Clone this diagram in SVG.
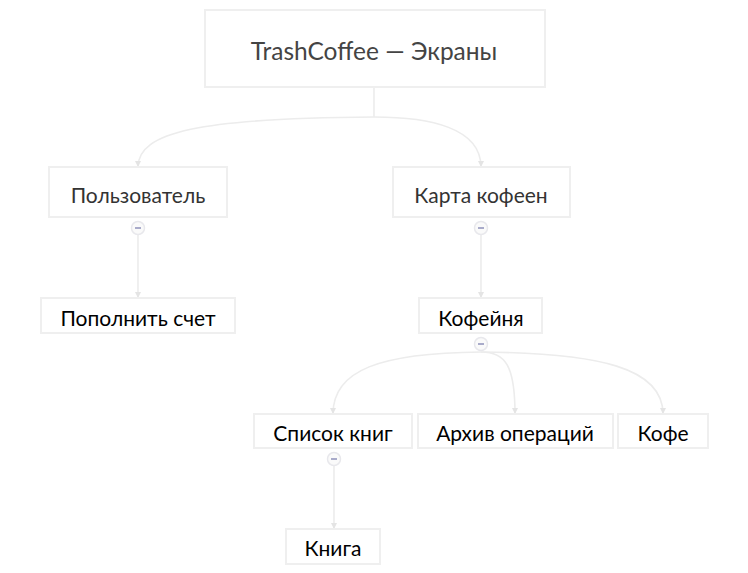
<svg xmlns="http://www.w3.org/2000/svg" width="748" height="573" viewBox="0 0 748 573">
<style>
  .box{fill:#fff;stroke:#efefef;stroke-width:2}
  .t{font-family:Lato,"Noto Sans","DejaVu Sans",sans-serif;text-anchor:middle}
  .t0{font-size:24.5px;fill:#444}
  .t1{font-size:21px;fill:#333}
  .t2{font-size:21px;fill:#000}
  .edge{fill:none;stroke:#ececec;stroke-width:1.6}
  .tog circle{fill:#fafafa;stroke:#e8e8ec;stroke-width:1.5}
  .tog line{stroke:#a9abca;stroke-width:2}
</style>
<defs>
  <marker id="arr" viewBox="0 0 10 10" refX="10" refY="5" markerWidth="6" markerHeight="6" markerUnits="userSpaceOnUse" orient="auto">
    <path d="M0,0 L10,5 L0,10 Z" fill="#e4e4e4"/>
  </marker>
</defs>
<rect width="748" height="573" fill="#fff"/>
<g id="connectors">
  <path class="edge" d="M374,87 V117"/>
  <path class="edge" marker-end="url(#arr)" d="M374,117 C200,118 138,132 138,167"/>
  <path class="edge" marker-end="url(#arr)" d="M374,117 C430,117 481,128 481,167"/>
  <path class="edge" marker-end="url(#arr)" d="M138,235 V298"/>
  <path class="edge" marker-end="url(#arr)" d="M481,235 V298"/>
  <path class="edge" marker-end="url(#arr)" d="M481,352 C380,353 333,370 333,414"/>
  <path class="edge" marker-end="url(#arr)" d="M481,352 C505,352 515,365 515,414"/>
  <path class="edge" marker-end="url(#arr)" d="M481,352 C600,353 663,368 663,414"/>
  <path class="edge" marker-end="url(#arr)" d="M334,466 V529"/>
</g>
<g id="root">
  <rect class="box" x="205" y="10" width="340" height="77"/>
  <text class="t t0" x="374" y="59.5">TrashCoffee — Экраны</text>
</g>
<g id="user">
  <rect class="box" x="49" y="167" width="178" height="50"/>
  <text class="t t1" x="138" y="203">Пользователь</text>
  <g class="tog"><circle cx="138" cy="228" r="6.5"/><line x1="135" y1="228" x2="141" y2="228"/></g>
</g>
<g id="map">
  <rect class="box" x="393" y="167" width="177" height="50"/>
  <text class="t t1" x="481" y="203">Карта кофеен</text>
  <g class="tog"><circle cx="481" cy="228" r="6.5"/><line x1="478" y1="228" x2="484" y2="228"/></g>
</g>
<g id="topup">
  <rect class="box" x="41" y="298" width="194" height="35"/>
  <text class="t t2" x="138" y="325.5">Пополнить счет</text>
</g>
<g id="cafe">
  <rect class="box" x="419" y="298" width="123" height="35"/>
  <text class="t t2" x="481" y="325.5">Кофейня</text>
  <g class="tog"><circle cx="481" cy="344" r="6.5"/><line x1="478" y1="344" x2="484" y2="344"/></g>
</g>
<g id="books">
  <rect class="box" x="254" y="414" width="158" height="34"/>
  <text class="t t2" x="333" y="440.5">Список книг</text>
  <g class="tog"><circle cx="334" cy="459" r="6.5"/><line x1="331" y1="459" x2="337" y2="459"/></g>
</g>
<g id="archive">
  <rect class="box" x="418" y="414" width="195" height="34"/>
  <text class="t t2" x="515" y="440.5">Архив операций</text>
</g>
<g id="coffee">
  <rect class="box" x="618" y="414" width="90" height="34"/>
  <text class="t t2" x="663" y="440.5">Кофе</text>
</g>
<g id="book">
  <rect class="box" x="286" y="529" width="94" height="35"/>
  <text class="t t2" x="333" y="555.5">Книга</text>
</g>
</svg>
